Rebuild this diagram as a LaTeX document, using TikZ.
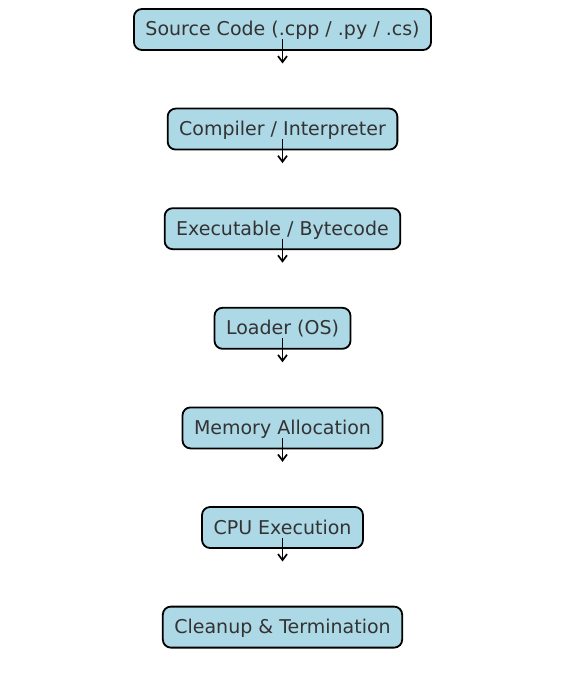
\documentclass[tikz,border=0pt]{standalone}
\usepackage{fontspec}
\setmainfont{DejaVu Sans}
\usetikzlibrary{arrows.meta}
\definecolor{boxfill}{HTML}{ADD8E6}
\definecolor{txt}{HTML}{333333}
\tikzset{
  stage/.style={draw=black, line width=1.8pt, fill=boxfill, rounded corners=8pt,
    minimum height=41pt, inner xsep=11.5pt, inner ysep=0pt,
    text height=17.5pt, text depth=4.5pt,
    text=txt, font=\fontsize{19pt}{22pt}\selectfont},
  flow/.style={line width=1.7pt, -{Straight Barb[length=6pt,width=9pt,line width=1.7pt]}}
}
\begin{document}
\begin{tikzpicture}[x=1pt,y=1pt]
\useasboundingbox (0,0) rectangle (563,-700);
\foreach \i/\t in {0/{Source Code (.cpp / .py / .cs)},1/{Compiler / Interpreter},2/{Executable / Bytecode},3/{Loader (OS)},4/{Memory Allocation},5/{CPU Execution},6/{Cleanup \& Termination}}{
  \pgfmathsetmacro{\yy}{-29.5-99.6*\i}
  \node[stage] (n\i) at (282.5,\yy) {\t};
}
\foreach \i in {0,...,5}{
  \coordinate (s\i) at ([yshift=-10pt]n\i.center);
  \coordinate (e\i) at ([yshift=-34pt]n\i.center);
  \draw[flow] (s\i) -- (e\i);
}
\end{tikzpicture}
\end{document}
